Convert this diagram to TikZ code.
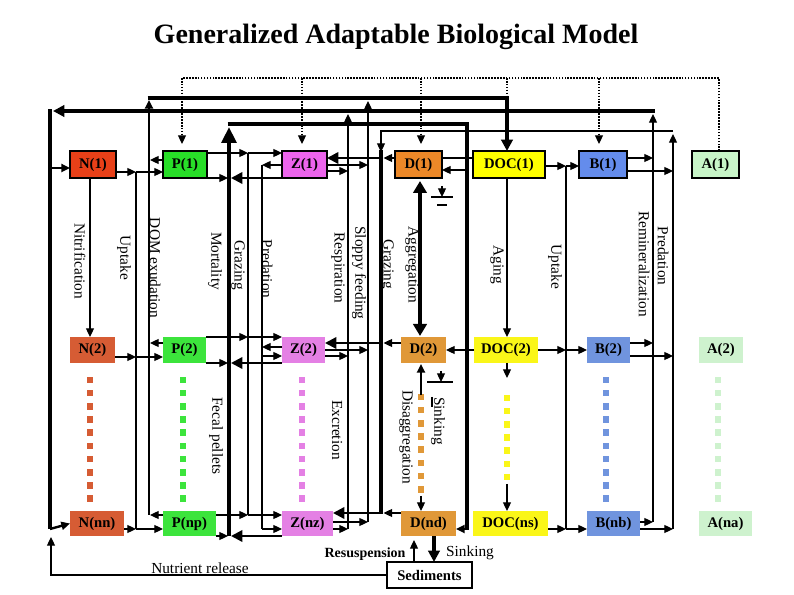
\documentclass[tikz,border=0pt]{standalone}
\usepackage{fontspec}
\setmainfont{Liberation Serif}
\usetikzlibrary{arrows.meta}
\definecolor{cN1}{RGB}{232,64,24}
\definecolor{cN2}{RGB}{214,92,52}
\definecolor{cP1}{RGB}{40,222,40}
\definecolor{cP2}{RGB}{60,228,60}
\definecolor{cZ1}{RGB}{236,100,236}
\definecolor{cZ2}{RGB}{228,128,228}
\definecolor{cD1}{RGB}{236,136,40}
\definecolor{cD2}{RGB}{224,152,56}
\definecolor{cDOC1}{RGB}{255,255,0}
\definecolor{cDOC2}{RGB}{250,246,24}
\definecolor{cB1}{RGB}{100,140,236}
\definecolor{cB2}{RGB}{112,148,222}
\definecolor{cA1}{RGB}{200,245,200}
\definecolor{cA2}{RGB}{206,242,206}
\begin{document}
\begin{tikzpicture}[x=0.75pt,y=-0.75pt,
  thinl/.style={line width=0.9pt},
  medl/.style={line width=1.8pt},
  thickl/.style={line width=3.2pt},
  ar/.style={-{Triangle[length=6.5pt,width=6pt]}},
  bar/.style={-{Triangle[length=8.5pt,width=8.5pt]}},
  dotl/.style={line width=0.8pt,dash pattern=on 1.2pt off 1pt},
  boxa/.style={draw,line width=1.3pt,inner sep=0pt,outer sep=0pt,font=\bfseries\fontsize{11}{12}\selectfont},
  boxb/.style={inner sep=0pt,outer sep=0pt,font=\bfseries\fontsize{11}{12}\selectfont},
  lab/.style={rotate=-90,font=\fontsize{11.5}{12}\selectfont,inner sep=0pt},
  hlab/.style={font=\fontsize{11.5}{12}\selectfont,inner sep=0pt}
]
\useasboundingbox (0,0) rectangle (794,595);
\fill[white] (0,0) rectangle (794,595);

\node[font=\bfseries\fontsize{21}{24}\selectfont] (title) at (396,37) {Generalized Adaptable Biological Model};

% ---------- dotted squares ----------
\foreach \xx/\cc/\nn/\sy in {90/cN2/10/380, 183/cP2/10/380, 302/cZ2/10/380, 421/cD2/8/397, 507/cDOC2/7/398, 606/cB2/10/380, 718/cA2/10/380}{
  \foreach \k in {1,...,\nn}{
    \fill[\cc] ({\xx-3.3},{\sy+13.2*(\k-1)-3.3}) rectangle ++(6.6,6.6);
  }
}

% ---------- boxes row 1 ----------
\node[boxa,fill=cN1,minimum width=34.5pt,minimum height=20.25pt] (N1) at (93,164.5) {N(1)};
\node[boxa,fill=cP1,minimum width=33pt,minimum height=20.25pt] (P1) at (185,164.5) {P(1)};
\node[boxa,fill=cZ1,minimum width=33.75pt,minimum height=20.25pt] (Z1) at (304.5,164.5) {Z(1)};
\node[boxa,fill=cD1,minimum width=35.25pt,minimum height=20.25pt] (D1) at (418.5,164.5) {D(1)};
\node[boxa,fill=cDOC1,minimum width=54pt,minimum height=20.25pt] (DOC1) at (509,164.5) {DOC(1)};
\node[boxa,fill=cB1,minimum width=36pt,minimum height=20.25pt] (B1) at (603,164.5) {B(1)};
\node[boxa,fill=cA1,minimum width=35.25pt,minimum height=20.25pt] (A1) at (715.5,164.5) {A(1)};
% ---------- boxes row 2 ----------
\node[boxb,fill=cN2,minimum width=33.75pt,minimum height=19.5pt] (N2) at (92.5,350) {N(2)};
\node[boxb,fill=cP2,minimum width=32.25pt,minimum height=19.5pt] (P2) at (184.5,350) {P(2)};
\node[boxb,fill=cZ2,minimum width=32.25pt,minimum height=19.5pt] (Z2) at (303.5,350) {Z(2)};
\node[boxb,fill=cD2,minimum width=33.75pt,minimum height=19.5pt] (D2) at (423.5,350) {D(2)};
\node[boxb,fill=cDOC2,minimum width=48pt,minimum height=19.5pt] (DOC2) at (506,350) {DOC(2)};
\node[boxb,fill=cB2,minimum width=32.25pt,minimum height=19.5pt] (B2) at (608.5,350) {B(2)};
\node[boxb,fill=cA2,minimum width=33pt,minimum height=19.5pt] (A2) at (721,350) {A(2)};
% ---------- boxes row 3 ----------
\node[boxb,fill=cN2,minimum width=40.5pt,minimum height=18.75pt] (Nn) at (97,523.5) {N(nn)};
\node[boxb,fill=cP2,minimum width=39.75pt,minimum height=18.75pt] (Pn) at (189.5,523.5) {P(np)};
\node[boxb,fill=cZ2,minimum width=38.25pt,minimum height=18.75pt] (Zn) at (307.5,523.5) {Z(nz)};
\node[boxb,fill=cD2,minimum width=41.25pt,minimum height=18.75pt] (Dn) at (428.5,523.5) {D(nd)};
\node[boxb,fill=cDOC2,minimum width=56.25pt,minimum height=18.75pt] (DOCn) at (510.5,523.5) {DOC(ns)};
\node[boxb,fill=cB2,minimum width=39.75pt,minimum height=18.75pt] (Bn) at (613.5,523.5) {B(nb)};
\node[boxb,fill=cA2,minimum width=39.75pt,minimum height=18.75pt] (An) at (725.5,523.5) {A(na)};
\node[draw,thinl,inner sep=0pt,minimum width=63.75pt,minimum height=19.5pt,font=\bfseries\fontsize{11}{12}\selectfont] (Sed) at (429.5,575) {Sediments};

% ---------- dotted top line ----------
\draw[dotl] (719,151) -- (719,78) -- (182,78);
\draw[dotl,ar] (182,78) -- (182,144);
\draw[dotl,ar] (302,78) -- (302,144);
\draw[dotl,ar] (421,78) -- (421,144);
\draw[dotl,ar] (599,78) -- (599,144);
\draw[dotl] (507,78) -- (507,98);

% ---------- DOM exudation line ----------
\draw[medl,ar] (149,515) -- (149,100);
\draw[thickl,bar] (147.5,98) -- (507,98) -- (507,151);

% ---------- nutrient line ----------
\draw[thinl,ar] (653,522) -- (653,114);
\draw[thickl,bar] (654.5,111) -- (53,111);
\draw[thickl] (50,109.5) -- (50,529);
\draw[medl,ar] (50,529) -- (Nn.west);
\draw[medl,ar] (50,168) -- (70,168);

% ---------- mortality / fecal line ----------
\draw[thickl,-{Triangle[length=12pt,width=11pt]}] (229,536) -- (229,127);
\draw[thickl] (227.5,124) -- (467,124) -- (467,530);
\draw[medl,ar] (467,529) -- (456,529);
\draw[thinl,ar] (467,170) -- (442,170);
\draw[thinl,ar] (DOC2.west) -- (D2.east);
\draw[thinl] (442,158) -- (473,158);

% ---------- Z respiration / sloppy feeding ----------
\draw[thinl,ar] (348,529) -- (348,114);
\draw[thinl,ar] (368,522) -- (368,101);
\draw[thinl,ar] (327,171) -- (348,171);
\draw[thinl,ar] (327,165) -- (368,165);
\draw[thinl,ar] (325,356) -- (348,356);
\draw[thinl,ar] (325,350) -- (368,350);
\draw[thinl,ar] (333,529) -- (348,529);
\draw[thinl,ar] (333,522) -- (368,522);

% ---------- grazing on D / predation on B ----------
\draw[thinl,ar] (673,529) -- (673,134);
\draw[thinl,ar] (673,131) -- (381,131) -- (381,152);
\draw[thickl] (381,150) -- (381,514.5);
\draw[medl,bar] (381,513) -- (333,513);
\draw[medl,bar] (381,158) -- (327,158);
\draw[medl,bar] (381,343) -- (325,343);
\draw[thinl,ar] (395,158) -- (383.5,158);
\draw[thinl,ar] (401,343) -- (383.5,343);
\draw[thinl,ar] (401,513) -- (383.5,513);

% ---------- B outputs ----------
\draw[thinl,ar] (627,158) -- (653,158);
\draw[thinl,ar] (627,171) -- (673,171);
\draw[thinl,ar] (630,343) -- (653,343);
\draw[thinl,ar] (630,356) -- (673,356);
\draw[thinl,ar] (640,522) -- (653,522);
\draw[thinl,ar] (640,529) -- (673,529);

% ---------- DOC uptake by B ----------
\draw[thinl] (566,166) -- (566,529);
\draw[thinl,ar] (545,166) -- (566,166);
\draw[thinl,ar] (566,166) -- (579,166);
\draw[thinl,ar] (538,350) -- (566,350);
\draw[thinl,ar] (566,350) -- (587,350);
\draw[thinl,ar] (548,529) -- (566,529);
\draw[thinl,ar] (566,529) -- (587,529);

% ---------- N uptake by P ----------
\draw[medl] (136,172) -- (136,529);
\draw[thinl,ar] (116,172) -- (136,172);
\draw[thinl,ar] (136,172) -- (163,172);
\draw[thinl,ar] (115,357) -- (136,357);
\draw[thinl,ar] (136,357) -- (163,357);
\draw[thinl,ar] (124,529) -- (136,529);
\draw[thinl,ar] (136,529) -- (163,529);

% ---------- P exudation ----------
\draw[thinl,ar] (163,160) -- (150,160);
\draw[thinl,ar] (163,343) -- (150,343);
\draw[thinl,ar] (163,515) -- (150,515);

% ---------- mortality / fecal pellets ----------
\draw[thinl,ar] (207,178) -- (228,178);
\draw[thinl,ar] (206,363) -- (228,363);
\draw[thinl,ar] (216,536) -- (228,536);
\draw[medl,bar] (282,178) -- (231,178);
\draw[medl,bar] (282,363) -- (231,363);
\draw[medl,bar] (282,536) -- (231,536);

% ---------- grazing P -> Z ----------
\draw[thinl] (248,153) -- (248,515);
\draw[thinl,ar] (207,153) -- (248,153);
\draw[thinl,ar] (248,153) -- (282,153);
\draw[thinl,ar] (206,337) -- (248,337);
\draw[thinl,ar] (248,337) -- (282,337);
\draw[thinl,ar] (216,515) -- (248,515);
\draw[thinl,ar] (248,515) -- (282,515);

% ---------- predation Z -> Z ----------
\draw[thinl] (262,165) -- (262,529);
\draw[thinl,ar] (282,165) -- (262,165);
\draw[thinl,ar] (282,347) -- (262,347);
\draw[thinl,ar] (262,356) -- (282,356);
\draw[thinl,ar] (262,529) -- (282,529);

% ---------- vertical transfers ----------
\draw[thinl,ar] (90,178) -- (90,337);
\draw[thinl,ar] (507,178) -- (507,337);
\draw[thinl,ar] (507,363) -- (507,378);
\draw[thinl,ar] (507,484) -- (507,511);
\draw[thickl,{Triangle[length=9pt,width=10pt]}-{Triangle[length=9pt,width=10pt]}] (420,181) -- (420,336);
\draw[medl,ar] (421,395) -- (421,364);
\draw[thinl,ar] (421,496) -- (421,511);

% sinking markers
\draw[thinl,ar] (442,186) -- (442,197);
\draw[thinl] (431,197) -- (453,197);
\draw[thinl] (437,205) -- (447,205);
\draw[thinl,ar] (441,371) -- (441,382);
\draw[thinl] (427,382) -- (453,382);
\draw[thinl] (432,397) -- (432,407);

% ---------- sediments ----------
\draw[thickl,bar] (434,536) -- (434,562);
\draw[thinl,ar] (414,562) -- (414,540);
\draw[thinl,ar] (Sed.west) -- (51,575) -- (51,537);

% ---------- labels ----------
\node[lab] (l1) at (80,261) {Nitrification};
\node[lab] (l2) at (124,258) {Uptake};
\node[lab] (l3) at (155,268) {DOM exudation};
\node[lab] (l4) at (215,261) {Mortality};
\node[lab] (l5) at (238,265) {Grazing};
\node[lab] (l6) at (267,269) {Predation};
\node[lab] (l7) at (338,268) {Respiration};
\node[lab] (l8) at (359,273) {Sloppy feeding};
\node[lab] (l9) at (387,264) {Grazing};
\node[lab] (l10) at (412,265) {Aggregation};
\node[lab] (l11) at (497,265) {Aging};
\node[lab] (l12) at (555,267) {Uptake};
\node[lab] (l13) at (644,264) {Remineralization};
\node[lab] (l14) at (663,256) {Predation};
\node[lab] (l15) at (216,436) {Fecal pellets};
\node[lab] (l16) at (337,430) {Excretion};
\node[lab] (l17) at (406,437) {Disaggregation};
\node[lab] (l18) at (438,421) {Sinking};
\node[hlab] (l19) at (200,568) {Nutrient release};
\node[hlab,font=\bfseries\fontsize{10.5}{12}\selectfont] (l20) at (365,554) {Resuspension};
\node[hlab] (l21) at (470,553) {Sinking};
\end{tikzpicture}
\end{document}
